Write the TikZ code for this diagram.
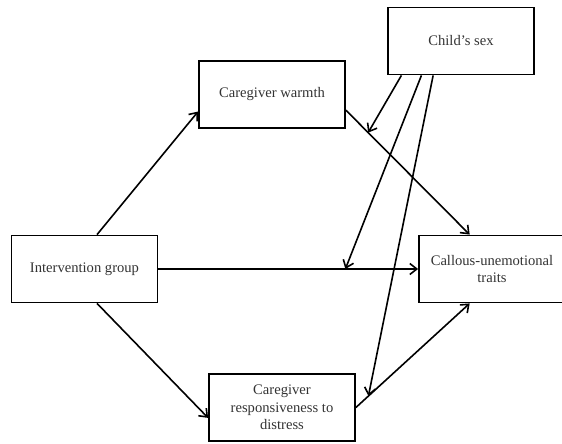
\documentclass[tikz,border=0pt]{standalone}
\usepackage{fontspec}
\setmainfont{Liberation Serif}
\usetikzlibrary{arrows.meta}

\begin{document}
\begin{tikzpicture}[x=1pt,y=-1pt,
    varbox/.style={draw,line width=1.8pt,minimum width=146pt,minimum height=67pt,
                   align=center,inner sep=2pt,text=black!80,
                   font=\fontsize{14.6}{17.5}\selectfont},
    every node/.style={varbox},
    pijl/.style={draw,line width=1.6pt,-{Straight Barb[length=7pt,width=11pt,line width=1.6pt]}}
    ]
    \useasboundingbox (0,0) rectangle (562,444);
    \node at (461,41) (sex) {Child's sex};
    \node at (272,94.5) (warmth) {Caregiver warmth};
    \node at (84.5,269) (interv) {Intervention group};
    \node at (492,269) (cu) {Callous-unemotional\\traits};
    \node at (282,407.5) (resp) {Caregiver\\responsiveness to\\distress};
    %%% punten op de paden voor moderatie
    \path (warmth.-12) -- (cu.123) coordinate[pos=0.18] (mod_warmth);
    \path (interv.east) -- (cu.west) coordinate[pos=0.72] (mod_direct);
    \path (resp.east) -- (cu.-123) coordinate[pos=0.11] (mod_resp);
    \path[every edge/.style={pijl}]
        (interv.70) edge (warmth.193)
        (interv.-70) edge (resp.188)
        (interv) edge (cu)
        (warmth.-12) edge (cu.123)
        (resp.east) edge (cu.-123)
        %%% moderatie door geslacht
        (sex.-150) edge (mod_warmth)
        (sex.-139) edge (mod_direct)
        (sex.-129) edge (mod_resp)
        ;
\end{tikzpicture}
\end{document}
